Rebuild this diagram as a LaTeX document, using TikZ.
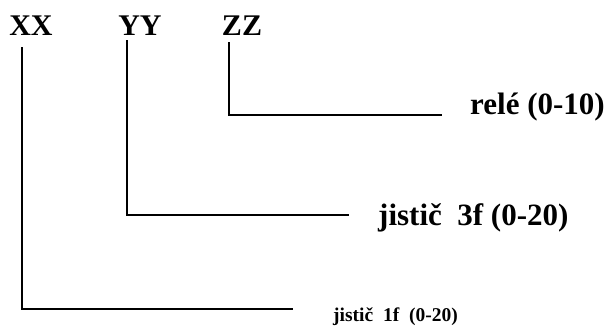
\documentclass[tikz,border=0pt]{standalone}
\usepackage{fontspec}
\setmainfont{Liberation Serif}
\usetikzlibrary{positioning, calc}
\tikzset{
  code/.style={font=\fontsize{30}{30}\selectfont\bfseries, inner sep=0pt, anchor=base},
  part/.style={font=\fontsize{31}{31}\selectfont\bfseries, inner sep=0pt, anchor=base west},
  lead/.style={line width=1.3pt}
}
\begin{document}
\begin{tikzpicture}[x=1pt,y=-1pt]
\useasboundingbox (0,0) rectangle (609,327);
% kody
\node[code] (xx) at (31,35) {XX};
\node[code] (yy) at (140,35) {YY};
\node[code] (zz) at (242,35) {ZZ};
% popisy
\node[part] (rele) at (470,114) {relé (0-10)};
\node[part] (j3f) at (378,225) {jistič\ \ 3f (0-20)};
\node[part, font=\fontsize{19.5}{19.5}\selectfont\bfseries] (j1f) at (333,321) {jistič\ \ 1f\ \ (0-20)};
% konce vedeni
\coordinate (xxend) at (293,309);
\coordinate (yyend) at (349,215);
\coordinate (zzend) at (442,115);
\draw[lead] ([shift={(-9,12)}]xx.south) |- (xxend);
\draw[lead] ([shift={(-13,5)}]yy.south) |- (yyend);
\draw[lead] ([shift={(-13,7)}]zz.south) |- (zzend);
\end{tikzpicture}
\end{document}
